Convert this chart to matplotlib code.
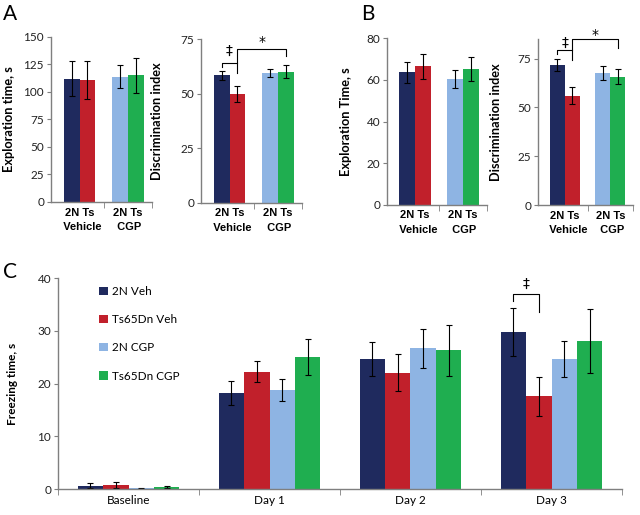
import matplotlib
matplotlib.use("Agg")
import matplotlib.pyplot as plt
import numpy as np

# colours of the four groups
colors = ["#1f2a5e", "#c1202b", "#8eb4e3", "#1fae50"]

# panels A and B: order is 2N Veh, Ts Veh, 2N CGP, Ts CGP
group_labels = ["2N Ts\n  Vehicle", "2N Ts\n CGP"]

a_expl = [112, 110.5, 113.5, 115]
a_expl_err = [16, 17, 10.5, 16]
a_disc = [58.3, 49.8, 59.4, 60]
a_disc_err = [2.2, 3.5, 1.8, 3]

b_expl = [63.6, 66.5, 60.5, 65.3]
b_expl_err = [5.2, 6, 4.3, 5.9]
b_disc = [71.8, 55.9, 67.4, 65.7]
b_disc_err = [3, 4.4, 3.6, 3.7]

# panel C
days = ["Baseline", "Day 1", "Day 2", "Day 3"]
series = ["2N Veh", "Ts65Dn Veh", "2N CGP", "Ts65Dn CGP"]
c_2n_veh = [0.65, 18.2, 24.7, 29.8]
c_2n_veh_err = [0.45, 2.3, 3.2, 4.6]
c_ts_veh = [0.75, 22.3, 22.1, 17.6]
c_ts_veh_err = [0.5, 2.0, 3.5, 3.7]
c_2n_cgp = [0.15, 18.8, 26.7, 24.7]
c_2n_cgp_err = [0.1, 2.0, 3.7, 3.4]
c_ts_cgp = [0.45, 25.1, 26.3, 28.1]
c_ts_cgp_err = [0.2, 3.4, 4.8, 6.1]

plt.rcParams["font.family"] = ["Lato", "DejaVu Sans"]

W, H = 640, 515
fig = plt.figure(figsize=(6.4, 5.15), dpi=100)

GREY = "#7f7f7f"
err_kw = dict(ecolor="black", elinewidth=0.8, capsize=2.2, capthick=0.8)


def px_axes(x0, ytop, x1, ybot):
    return fig.add_axes([x0 / W, 1 - ybot / H, (x1 - x0) / W, (ybot - ytop) / H])


def style(ax):
    for s in ["top", "right"]:
        ax.spines[s].set_visible(False)
    for s in ["left", "bottom"]:
        ax.spines[s].set_color(GREY)
        ax.spines[s].set_linewidth(1)
    ax.tick_params(axis="y", direction="out", length=3, color=GREY,
                   labelsize=8.5, labelcolor="#222222", pad=2)
    ax.tick_params(axis="x", which="major", length=0, pad=4)
    ax.tick_params(axis="x", which="minor", length=4, color=GREY)


def small_panel(ax, vals, errs, ymax, step, ylabel, label_px):
    x = np.repeat([0, 1], 2) + np.tile([-0.165, 0.165], 2)
    ax.bar(x, vals, width=0.33, color=colors, yerr=errs, error_kw=err_kw)
    ax.set_xlim(-0.59, 1.5)
    ax.set_ylim(0, ymax)
    ax.set_yticks(np.arange(0, ymax + 0.1, step))
    ax.set_xticks([0, 1])
    ax.set_xticklabels(group_labels, fontsize=8, fontweight="bold",
                       family=["Liberation Sans Narrow", "Liberation Sans"],
                       linespacing=1.6)
    ax.set_xticks([0.5, 1.5], minor=True)
    style(ax)
    ax.set_ylabel(ylabel, fontsize=9.2, fontweight="bold")
    ax.yaxis.set_label_coords(label_px / ax.bbox.width, 0.5)
    return x


def bracket(ax, xs, ys):
    ax.plot(xs, ys, color="black", lw=0.8, clip_on=False)


# A left
ax1 = px_axes(51, 36.7, 152, 202)
small_panel(ax1, a_expl, a_expl_err, 150, 25, "Exploration time, s", -36)

# A right
ax2 = px_axes(201, 39, 302, 202.7)
x = small_panel(ax2, a_disc, a_disc_err, 75, 25, "Discrimination index", -38)
bracket(ax2, [x[0], x[0], x[1]], [62.0, 63.8, 63.8])
bracket(ax2, [x[1], x[1], x[3], x[3]], [59.6, 70.3, 70.3, 67.2])
ax2.text(0, 69.6, "\u2021", ha="center", va="center", fontsize=10, family="DejaVu Sans")
ax2.text(0.665, 73.6, "*", ha="center", va="center", fontsize=10, family="DejaVu Sans")

# B left
ax3 = px_axes(387, 38.3, 487, 204.7)
small_panel(ax3, b_expl, b_expl_err, 80, 20, "Exploration Time, s", -35)

# B right
ax4 = px_axes(538, 39, 633, 205)
x = small_panel(ax4, b_disc, b_disc_err, 85, 25, "Discrimination index", -36)
bracket(ax4, [x[0], x[0], x[1]], [77.2, 79.5, 79.5])
bracket(ax4, [x[1], x[1], x[3], x[3]], [74.2, 84.9, 84.9, 80.6])
ax4.text(0, 82.8, "\u2021", ha="center", va="center", fontsize=10, family="DejaVu Sans")
ax4.text(0.665, 87.2, "*", ha="center", va="center", fontsize=10, family="DejaVu Sans")

# C
ax5 = px_axes(58, 278.3, 622, 489)
c_vals = [c_2n_veh, c_ts_veh, c_2n_cgp, c_ts_cgp]
c_errs = [c_2n_veh_err, c_ts_veh_err, c_2n_cgp_err, c_ts_cgp_err]
xd = np.arange(len(days))
bw = 0.18
for i, (name, v, e) in enumerate(zip(series, c_vals, c_errs)):
    ax5.bar(xd + (i - 1.5) * bw, v, width=bw, color=colors[i], label=name,
            yerr=e, error_kw=err_kw)
ax5.set_xlim(-0.5, 3.5)
ax5.set_ylim(0, 40)
ax5.set_yticks(np.arange(0, 41, 10))
ax5.set_xticks(xd)
ax5.set_xticklabels(days, fontsize=8.5)
ax5.set_xticks(np.arange(-0.5, 3.6, 1), minor=True)
style(ax5)
ax5.set_ylabel("Freezing time, s", fontsize=8.5, fontweight="bold")
ax5.yaxis.set_label_coords(-40 / ax5.bbox.width, 0.5)
d0 = 3 - 1.5 * bw
d1 = 3 - 0.5 * bw
bracket(ax5, [d0, d0, d1, d1], [35.7, 37.0, 37.0, 33.6])
ax5.text((d0 + d1) / 2, 38.9, "\u2021", ha="center", va="center", fontsize=10,
         family="DejaVu Sans")
ax5.legend(loc="upper left", bbox_to_anchor=(0.065, 0.985), frameon=False,
           fontsize=8.5, handlelength=0.7, handleheight=0.7, handletextpad=0.4,
           labelspacing=1.45, borderaxespad=0)

# panel letters
fig.text(3 / W, 1 - 20 / H, "A", fontsize=15)
fig.text(361 / W, 1 - 20 / H, "B", fontsize=15)
fig.text(3 / W, 1 - 278 / H, "C", fontsize=15)

fig.savefig("out.png", dpi=100)
